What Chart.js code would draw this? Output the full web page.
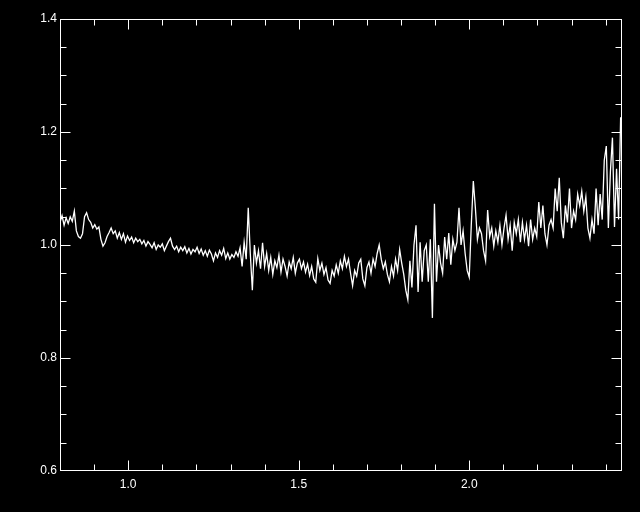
<!DOCTYPE html>
<html>
<head>
<meta charset="utf-8">
<title>Spectrum</title>
<script src="https://cdn.jsdelivr.net/npm/chart.js@4/dist/chart.umd.min.js"></script>
<style>
  html, body { margin: 0; padding: 0; background: #000; }
  canvas { display: block; }
</style>
</head>
<body>
<canvas id="chart" width="640" height="512"></canvas>
<script>
// --- Data
const wavelengthStart = 0.8;   // first sample, microns
const wavelengthStep = 0.006;  // sample spacing

const flux = [
  1.040, 1.052, 1.035, 1.048, 1.038, 1.050, 1.042, 1.060, 1.025, 1.015,
  1.012, 1.020, 1.050, 1.057, 1.045, 1.040, 1.030, 1.036, 1.028, 1.032,
  1.010, 0.998, 1.004, 1.015, 1.022, 1.030, 1.020, 1.025, 1.012, 1.022,
  1.010, 1.020, 1.005, 1.016, 1.008, 1.014, 1.004, 1.012, 1.006, 1.010,
  1.002, 1.008, 0.998, 1.006, 1.001, 0.995, 1.004, 0.992, 1.000, 0.996,
  1.002, 0.990, 0.998, 1.006, 1.012, 0.998, 0.992, 0.998, 0.988, 0.996,
  0.990, 0.997, 0.986, 0.994, 0.984, 0.992, 0.988, 0.996, 0.985, 0.993,
  0.982, 0.990, 0.980, 0.991, 0.984, 0.972, 0.986, 0.978, 0.990, 0.982,
  0.994, 0.976, 0.986, 0.975, 0.983, 0.978, 0.988, 0.980, 0.995, 0.962,
  1.005, 0.975, 1.066, 0.985, 0.920, 1.000, 0.968, 0.990, 0.958, 1.004,
  0.962, 0.985, 0.955, 0.978, 0.948, 0.972, 0.960, 0.982, 0.952, 0.975,
  0.962, 0.945, 0.970, 0.958, 0.978, 0.950, 0.968, 0.975, 0.958, 0.970,
  0.952, 0.966, 0.946, 0.962, 0.940, 0.934, 0.976, 0.955, 0.968, 0.948,
  0.960, 0.938, 0.932, 0.955, 0.945, 0.965, 0.950, 0.972, 0.958, 0.980,
  0.962, 0.975, 0.950, 0.928, 0.955, 0.945, 0.968, 0.975, 0.940, 0.928,
  0.960, 0.970, 0.950, 0.975, 0.962, 0.985, 1.000, 0.975, 0.958, 0.970,
  0.948, 0.935, 0.962, 0.945, 0.975, 0.955, 0.992, 0.968, 0.948, 0.920,
  0.903, 0.972, 0.925, 1.000, 1.035, 0.917, 1.005, 0.935, 0.990, 1.000,
  0.935, 1.010, 0.871, 1.073, 0.935, 1.000, 0.968, 0.950, 1.014, 0.975,
  1.021, 0.965, 1.010, 0.990, 1.005, 1.066, 1.000, 1.025, 0.985, 0.955,
  0.943, 1.035, 1.113, 1.066, 1.010, 1.030, 1.020, 0.990, 0.972, 1.062,
  1.015, 1.030, 0.998, 1.025, 1.005, 1.035, 1.000, 1.030, 1.053, 1.010,
  1.035, 0.990, 1.040, 1.020, 1.045, 1.005, 1.040, 1.010, 1.035, 0.998,
  1.045, 1.010, 1.030, 1.015, 1.076, 1.030, 1.070, 1.020, 1.000, 1.035,
  1.045, 1.030, 1.100, 1.060, 1.119, 1.040, 1.012, 1.070, 1.040, 1.100,
  1.030, 1.060, 1.045, 1.090, 1.070, 1.095, 1.060, 1.085, 1.030, 1.012,
  1.045, 1.020, 1.100, 1.035, 1.090, 1.045, 1.150, 1.175, 1.030, 1.130,
  1.190, 1.032, 1.135, 1.045, 1.226
];

const xTickValues = [1.0, 1.5, 2.0];
const yTickValues = [0.6, 0.8, 1.0, 1.2, 1.4];

// --- Build points
const points = flux.map((v, i) => ({ x: wavelengthStart + i * wavelengthStep, y: v }));

const FG = "#ffffff";
const FONT = { family: "'Liberation Sans', Arial, sans-serif", size: 12 };

// black background
const bgPlugin = {
  id: "bg",
  beforeDraw(chart){
    const c = chart.ctx;
    c.save();
    c.fillStyle = "#000";
    c.fillRect(0, 0, chart.width, chart.height);
    c.restore();
  }
};

// box frame with inward ticks on all four sides
const framePlugin = {
  id: "frame",
  afterDraw(chart){
    const c = chart.ctx;
    const a = chart.chartArea;
    const xs = chart.scales.x, ys = chart.scales.y;
    const L = Math.round(a.left) + 0.5, R = Math.round(a.right) - 0.5;
    const T = Math.round(a.top) + 0.5, B = Math.round(a.bottom) - 0.5;

    c.save();
    c.strokeStyle = FG;
    c.lineWidth = 1;
    c.strokeRect(L, T, R - L, B - T);

    c.beginPath();
    for (let k = 8; k <= 24; k++){
      const v = k / 10;
      const major = k % 5 === 0;
      const len = major ? 10 : 6;
      const px = Math.round(xs.getPixelForValue(v)) + 0.5;
      if (px <= L || px >= R) continue;
      c.moveTo(px, B); c.lineTo(px, B - len);
      c.moveTo(px, T); c.lineTo(px, T + len);
    }
    for (let k = 12; k <= 28; k++){
      const v = k * 0.05;
      const major = k % 4 === 0;
      const len = major ? 10 : 6;
      const py = Math.round(ys.getPixelForValue(v)) + 0.5;
      if (py <= T || py >= B) continue;
      c.moveTo(L, py); c.lineTo(L + len, py);
      c.moveTo(R, py); c.lineTo(R - len, py);
    }
    c.stroke();
    c.restore();
  }
};

new Chart(document.getElementById("chart"), {
  type: "line",
  data: {
    datasets: [{
      data: points,
      borderColor: FG,
      borderWidth: 1.3,
      pointRadius: 0,
      tension: 0,
      fill: false
    }]
  },
  options: {
    responsive: false,
    animation: false,
    layout: { padding: { top: 19, right: 18, bottom: 0, left: 0 } },
    plugins: { legend: { display: false }, tooltip: { enabled: false } },
    scales: {
      x: {
        type: "linear",
        min: 0.8,
        max: 2.448,
        grid: { display: false, drawTicks: false },
        border: { display: false },
        afterBuildTicks: s => { s.ticks = xTickValues.map(v => ({ value: v })); },
        afterFit: s => { s.height = 41; },
        ticks: {
          color: FG,
          font: FONT,
          padding: 6,
          maxRotation: 0,
          callback: v => Number(v).toFixed(1)
        }
      },
      y: {
        type: "linear",
        min: 0.6,
        max: 1.4,
        grid: { display: false, drawTicks: false },
        border: { display: false },
        afterBuildTicks: s => { s.ticks = yTickValues.map(v => ({ value: v })); },
        afterFit: s => { s.width = 60; },
        ticks: {
          color: FG,
          font: FONT,
          padding: 3,
          callback: v => Number(v).toFixed(1)
        }
      }
    }
  },
  plugins: [bgPlugin, framePlugin]
});
</script>
</body>
</html>
